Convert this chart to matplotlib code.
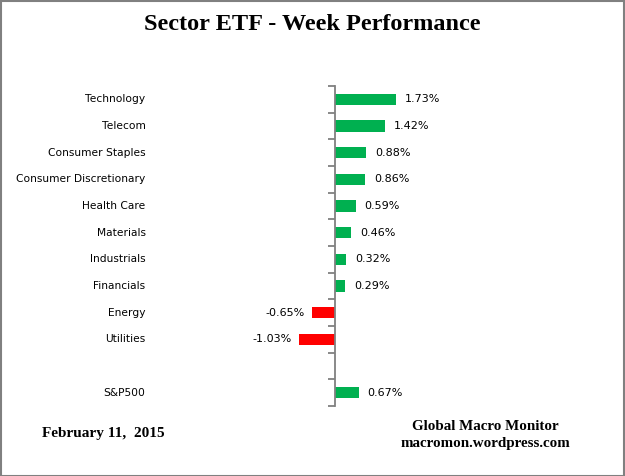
import matplotlib.pyplot as plt
import matplotlib.transforms as mtransforms
from matplotlib.patches import Rectangle

# --- Data ---
sectors = ['Technology', 'Telecom', 'Consumer Staples', 'Consumer Discretionary',
           'Health Care', 'Materials', 'Industrials', 'Financials', 'Energy',
           'Utilities', '', 'S&P500']
perf = [1.73, 1.42, 0.88, 0.86, 0.59, 0.46, 0.32, 0.29, -0.65, -1.03, None, 0.67]

GREEN = '#00B050'
RED = '#FF0000'
AXIS_GRAY = '#808080'

fig = plt.figure(figsize=(6.25, 4.76), dpi=100)
W, H = 625, 476
# plot area in pixels: x 150..520, y 86..406
ax = fig.add_axes([150 / W, (H - 406) / H, 370 / W, 320 / H])

ypos = list(range(len(sectors)))
for y, v in zip(ypos, perf):
    if v is None:
        continue
    ax.barh(y, v, height=0.42, color=GREEN if v > 0 else RED)
    if v > 0:
        ax.text(v + 0.25, y, f'{v:.2f}%', ha='left', va='center', fontsize=8)
    else:
        ax.text(v - 0.2, y, f'{v:.2f}%', ha='right', va='center', fontsize=8)

trans = mtransforms.blended_transform_factory(ax.transAxes, ax.transData)
for y, name in zip(ypos, sectors):
    ax.text(-0.012, y, name, ha='right', va='center', fontsize=7.7, transform=trans)

ax.set_xlim(-5.24, 5.24)
ax.set_ylim(len(sectors) - 0.5, -0.5)

for s in ['top', 'right', 'bottom']:
    ax.spines[s].set_visible(False)
ax.spines['left'].set_position(('data', 0))
ax.spines['left'].set_color(AXIS_GRAY)
ax.spines['left'].set_linewidth(1.3)
ax.set_yticks([i - 0.5 for i in range(len(sectors) + 1)])
ax.set_yticklabels([])
ax.tick_params(axis='y', direction='out', length=5, color=AXIS_GRAY, width=1.3)
ax.set_xticks([])

fig.text(0.5, 1 - 24 / H, 'Sector ETF - Week Performance', ha='center', va='center',
         fontsize=17.5, fontweight='bold', family='Liberation Serif')
fig.text(42 / W, 1 - 434 / H, 'February 11,  2015', ha='left', va='center',
         fontsize=11, fontweight='bold', family='Liberation Serif')
fig.text(485 / W, 1 - 427 / H, 'Global Macro Monitor', ha='center', va='center',
         fontsize=10.8, fontweight='bold', family='Liberation Serif')
fig.text(485 / W, 1 - 444 / H, 'macromon.wordpress.com', ha='center', va='center',
         fontsize=10.8, fontweight='bold', family='Liberation Serif')

fig.patches.append(Rectangle((0.5 / W, 0.5 / H), 1 - 1.5 / W, 1 - 1.5 / H,
                             transform=fig.transFigure, fill=False,
                             edgecolor=AXIS_GRAY, linewidth=1.5))

fig.savefig('out.png', dpi=100)
